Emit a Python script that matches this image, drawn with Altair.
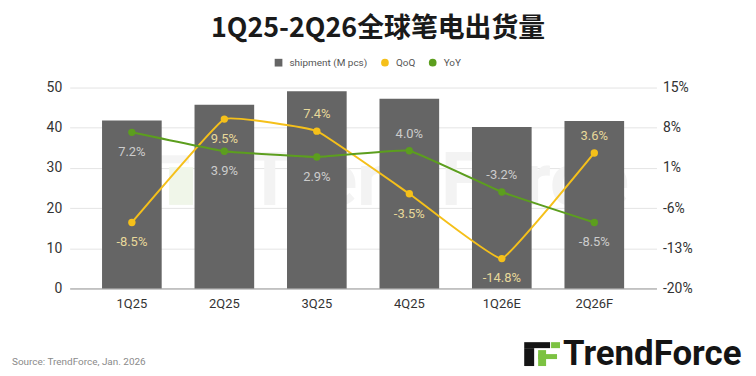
import altair as alt
import pandas as pd

quarters = ["1Q25", "2Q25", "3Q25", "4Q25", "1Q26E", "2Q26F"]
shipment = [41.8, 45.7, 49.1, 47.2, 40.2, 41.7]
qoq = [-8.5, 9.5, 7.4, -3.5, -14.8, 3.6]
yoy = [7.2, 3.9, 2.9, 4.0, -3.2, -8.5]
qoq_label_pos = ["below", "below", "above", "below", "below", "above"]
yoy_label_pos = ["below", "below", "below", "above", "above", "below"]
series_names = ["shipment (M pcs)", "QoQ", "YoY"]
left_ticks = [0, 10, 20, 30, 40, 50]
right_ticks = [-20, -13, -6, 1, 8, 15]

bars_df = pd.DataFrame({"quarter": quarters, "value": shipment, "series": series_names[0]})
rows = []
for i, q in enumerate(quarters):
    rows.append({"quarter": q, "series": "QoQ", "value": qoq[i], "pos": qoq_label_pos[i],
                 "label": f"{qoq[i]:.1f}%"})
    rows.append({"quarter": q, "series": "YoY", "value": yoy[i], "pos": yoy_label_pos[i],
                 "label": f"{yoy[i]:.1f}%"})
lines_df = pd.DataFrame(rows)

color_scale = alt.Scale(domain=series_names, range=["#656565", "#f5c01a", "#5c9e1e"])
shape_scale = alt.Scale(domain=series_names, range=["square", "circle", "circle"])
legend = alt.Legend(title=None, orient="none", legendX=205, legendY=-30, direction="horizontal",
                    labelFontSize=10, labelColor="#555555", labelFont="Roboto",
                    symbolSize=60, symbolStrokeWidth=0, columnPadding=12, labelOffset=6)

x_enc = alt.X("quarter:N", sort=quarters, title=None,
              scale=alt.Scale(paddingInner=0.355, paddingOuter=0.35),
              axis=alt.Axis(labelAngle=0, labelFontSize=13, labelColor="#333333", labelFont="Roboto",
                            ticks=False, domainColor="#9a9a9a", labelPadding=9, grid=False))

one = alt.Chart(pd.DataFrame({"a": [0]}))

# faint watermark behind the bars
watermark = [
    one.mark_text(text="TrendForce", align="left", baseline="alphabetic", fontSize=75,
                  fontWeight="bold", color="#f3f3f3", font="Roboto").encode(
        x=alt.value(178), y=alt.value(118)),
    one.mark_rect(color="#f4f4f4").encode(x=alt.value(88), x2=alt.value(120), y=alt.value(68), y2=alt.value(76)),
    one.mark_rect(color="#f0f6e9").encode(x=alt.value(100), x2=alt.value(124), y=alt.value(80), y2=alt.value(118)),
]

bars = alt.Chart(bars_df).mark_bar().encode(
    x=x_enc,
    y=alt.Y("value:Q", title=None, scale=alt.Scale(domain=[0, 50], nice=False),
            axis=alt.Axis(values=left_ticks, labelFontSize=14, labelColor="#333333", labelFont="Roboto",
                          ticks=False, domain=False, gridColor="#e4e4e4", labelPadding=8)),
    color=alt.Color("series:N", scale=color_scale, legend=legend),
)

y_right = alt.Y("value:Q", title=None, scale=alt.Scale(domain=[-20, 15], nice=False),
                axis=alt.Axis(values=right_ticks, orient="right", labelExpr="datum.value + '%'",
                              labelFontSize=14, labelColor="#333333", labelFont="Roboto",
                              ticks=False, domain=False, grid=False, labelPadding=6))

lines_base = alt.Chart(lines_df)
lines = lines_base.mark_line(strokeWidth=2, interpolate="cardinal", tension=0.75).encode(
    x=alt.X("quarter:N", sort=quarters), y=y_right,
    color=alt.Color("series:N", scale=color_scale, legend=legend),
)
points = lines_base.mark_point(filled=True, size=55, opacity=1).encode(
    x=alt.X("quarter:N", sort=quarters), y=y_right,
    color=alt.Color("series:N", scale=color_scale, legend=legend),
    shape=alt.Shape("series:N", scale=shape_scale, legend=legend),
)

def label_layer(series, pos, color):
    return lines_base.transform_filter(
        (alt.datum.series == series) & (alt.datum.pos == pos)
    ).mark_text(fontSize=13, font="Roboto", color=color,
                dy=(-17 if pos == "above" else 20)).encode(
        x=alt.X("quarter:N", sort=quarters), y=y_right, text="label:N")

texts = [label_layer(s, p, c) for s, c in [("QoQ", "#e8d99a"), ("YoY", "#cccccc")]
         for p in ["above", "below"]]

right_layer = alt.layer(lines, points, *texts)

source = one.mark_text(text="Source: TrendForce, Jan. 2026", align="left", baseline="middle",
                       fontSize=10, color="#8a8a8a", font="Roboto").encode(
    x=alt.value(-58), y=alt.value(276))
logo_text = one.mark_text(text="TrendForce", align="left", baseline="alphabetic",
                          fontSize=35, fontWeight="bold", color="#141414", font="Roboto").encode(
    x=alt.value(496), y=alt.value(279))
icon = [
    one.mark_rect(color="#141414").encode(x=alt.value(457), x2=alt.value(483), y=alt.value(256), y2=alt.value(262)),
    one.mark_rect(color="#141414").encode(x=alt.value(457), x2=alt.value(467), y=alt.value(262), y2=alt.value(280)),
    one.mark_rect(color="#7cc242").encode(x=alt.value(484), x2=alt.value(493), y=alt.value(256), y2=alt.value(262)),
    one.mark_rect(color="#7cc242").encode(x=alt.value(471), x2=alt.value(479), y=alt.value(264), y2=alt.value(280)),
    one.mark_rect(color="#7cc242").encode(x=alt.value(471), x2=alt.value(490), y=alt.value(268), y2=alt.value(273)),
]

chart = alt.layer(*watermark, bars, right_layer, source, logo_text, *icon).resolve_scale(y="independent").properties(
    width=590, height=202,
    padding={"left": 62, "top": 79, "right": 92, "bottom": 79},
    autosize=alt.AutoSizeParams(type="none"),
    title=alt.TitleParams("1Q25-2Q26全球笔电出货量", font="Noto Sans CJK SC", fontSize=27,
                          fontWeight="bold", color="#1a1a1a", anchor="middle", frame="group",
                          offset=15, dx=15),
).configure_view(stroke=None).configure_axis(labelFont="Roboto")

chart.save("out.html", embed_options={"renderer": "svg", "actions": False})
